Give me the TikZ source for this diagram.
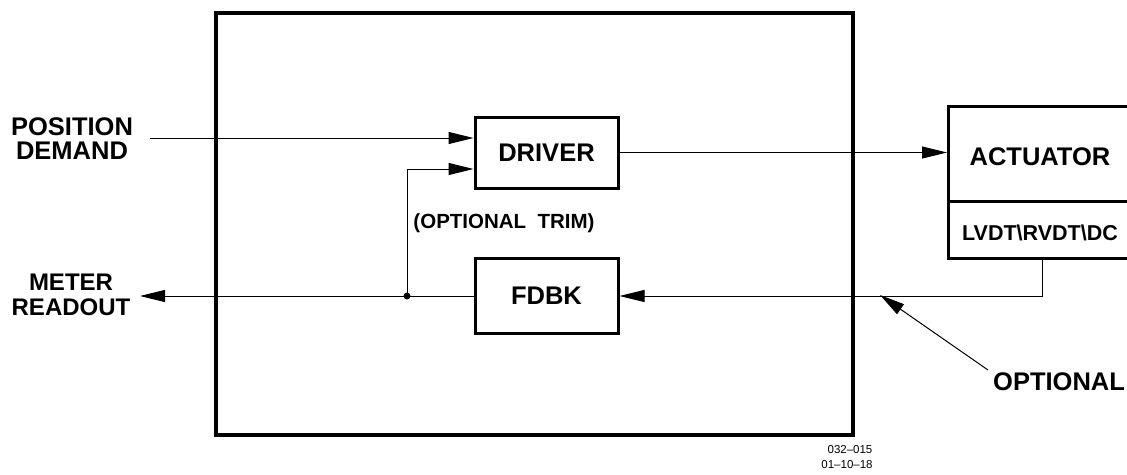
\documentclass[tikz,border=0pt]{standalone}
\usepackage{fontspec}
\setmainfont{Liberation Sans}
\usetikzlibrary{arrows.meta,calc}
\begin{document}
\begin{tikzpicture}[x=1pt,y=-1pt,
  lbl/.style={font=\bfseries\fontsize{25.5}{27}\selectfont, align=center, inner sep=0pt},
  blk/.style={draw, line width=3pt, minimum width=143pt, inner sep=0pt},
  conn/.style={line width=1pt},
  arr/.style={conn, -{Triangle[length=25pt,width=12pt]}},
  small/.style={font=\fontsize{11.5}{13}\selectfont, inner sep=0pt}]
\useasboundingbox (0,0) rectangle (1127,474);
% outer box
\node[draw, line width=4pt, minimum width=637pt, minimum height=422pt, inner sep=0pt] (outer) at (534.5,224) {};
% blocks
\node[blk, minimum height=71pt, lbl] (driver) at (546.5,152.5) {DRIVER};
\node[blk, minimum height=75pt, lbl] (fdbk) at (546.5,295.5) {FDBK};
\begin{scope}
\clip (0,0) rectangle (1127,474);
\node[draw, line width=3pt, minimum width=200pt, minimum height=95pt, inner sep=0pt, anchor=north west] (act) at (947,105) {};
\node[draw, line width=3pt, minimum width=200pt, minimum height=57pt, inner sep=0pt, anchor=north west] (lvdt) at (947,200) {};
\end{scope}
\node[lbl] (acttxt) at (1040,157) {ACTUATOR};
\node[lbl, font=\bfseries\fontsize{21.5}{24}\selectfont] (lvdttxt) at (1040,233) {LVDT\textbackslash RVDT\textbackslash DC};
% labels
\node[lbl] (pos) at (72,139) {POSITION\\[-3pt]DEMAND};
\node[lbl, font=\bfseries\fontsize{24}{27}\selectfont] (meter) at (71,295) {METER\\[-2pt]READOUT};
\node[lbl, font=\bfseries\fontsize{20.5}{22}\selectfont] (trim) at (504,223) {(OPTIONAL\ \ TRIM)};
\node[lbl, anchor=west] (opt) at (993,382) {OPTIONAL};
\node[small] (num1) at (850,450) {032--015};
\node[small] (num2) at (847,465) {01--10--18};
% connectors
\coordinate (pdstart) at (150,138);
\draw[arr] (pdstart) -- (pdstart -| driver.west);
\coordinate (junc) at (407,296);
\coordinate (trimtop) at (407,169);
\draw[arr] (junc) -- (trimtop) -- (trimtop -| driver.west);
\draw[arr] (driver.east) -- (driver.east -| act.west);
\coordinate (sens) at (1042,257);
\coordinate (sensturn) at (1042,296);
\draw[arr] (sens) -- (sensturn) -- (sensturn -| fdbk.east);
\coordinate (meterend) at (140,296);
\draw[arr] (fdbk.west |- junc) -- (meterend);
\fill (junc) circle (3.5pt);
\coordinate (optstart) at (988,370);
\coordinate (opttip) at (880,295);
\draw[arr] (optstart) -- (opttip);
\end{tikzpicture}
\end{document}
